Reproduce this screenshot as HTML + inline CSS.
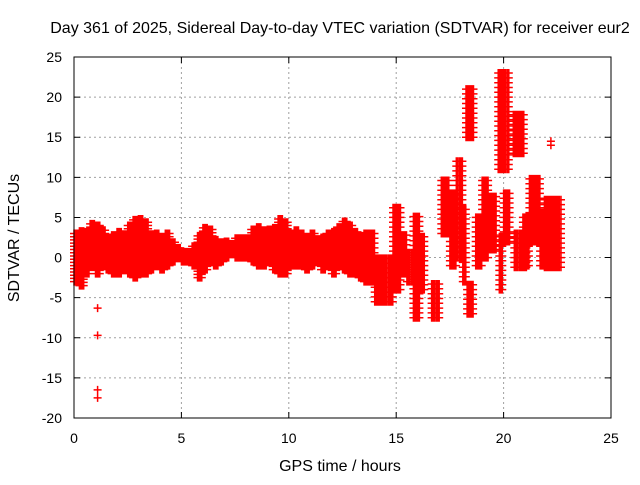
<!DOCTYPE html>
<html><head><meta charset="utf-8"><style>
body{margin:0;background:#fff}
svg{font-family:"Liberation Sans",sans-serif}
</style></head><body>
<svg id="c" width="640" height="480">
<text x="340" y="33" font-size="16" text-anchor="middle">Day 361 of 2025, Sidereal Day-to-day VTEC variation (SDTVAR) for receiver eur2</text>
<text x="340" y="471" font-size="16" text-anchor="middle">GPS time / hours</text>
<text transform="translate(19,238) rotate(-90)" font-size="16" text-anchor="middle">SDTVAR / TECUs</text>
<g id="grid"></g><g id="marks"></g>
<rect x="74" y="57" width="537" height="361" fill="none" stroke="#000"/>
</svg>
<script>
const xTicks=[0,5,10,15,20,25];
const yTicks=[-20,-15,-10,-5,0,5,10,15,20,25];
// main band: 0.25-hour columns, low/high values
const bandT=[0,0.25,0.5,0.75,1.0,1.25,1.5,1.75,2.0,2.25,2.5,2.75,3.0,3.25,3.5,3.75,4.0,4.25,4.5,4.75,5.0,5.25,5.5,5.75,6.0,6.25,6.5,6.75,7.0,7.25,7.5,7.75,8.0,8.25,8.5,8.75,9.0,9.25,9.5,9.75,10.0,10.25,10.5,10.75,11.0,11.25,11.5,11.75,12.0,12.25,12.5,12.75,13.0,13.25];
const bandLo=[-3,-3.5,-2,-1,-2,-1,-1.5,-2,-2,-1.5,-2,-2.5,-2,-2,-1.5,-1,-1.5,-1,-0.5,0,-0.5,-0.5,-1,-2.5,-1.5,-0.5,-1,-0.5,0,0.5,0,0,0,-0.5,-1,-1,-0.5,-1.5,-2,-2,-1,-1,-1,-1.5,-1,-0.5,-1.5,-1,-2,-1,-1.5,-2,-2,-2.5];
const bandHi=[3,3.5,3.5,4.5,4,3.5,2.5,3,3.5,3,4,5,5,4.5,3,3,2.5,3,2,1.5,1,1,1.5,3,4,3.5,2.5,2,2,2,2.5,2.5,2.5,3.5,4,3.5,3.5,4,5,4.5,3,3.5,3,2.5,3,2.5,2.5,3,3.5,4,4.5,4,3.5,3];
// sparse segments later in the day
const segStart=[13.5,14.0,14.85,15.2,15.5,15.8,16.1,16.65,17.1,17.5,17.8,18.1,18.25,18.3,18.7,19.0,19.3,19.75,19.8,20.0,20.45,20.5,20.9,21.2,21.7,21.9];
const segEnd=[14.0,14.85,15.2,15.5,15.8,16.1,16.35,17.05,17.5,17.8,18.1,18.3,18.6,18.6,19.0,19.3,19.7,20.3,20.0,20.3,21.0,21.1,21.2,21.7,21.9,22.7];
const segLo=[-3,-5.5,-4,-2,-3,-7.5,-4,-7.5,3,-1,0,-3,15,-7,-1,0,1,11,-4,2,13,-1.2,-1,2,-1,-1.2];
const segHi=[3,0,6.5,3,1,5.5,3,-3,10,8,12,6,21,-3,5,10,8,23,3,8,18,3,5,10,6,7.5];
const ptT=[1.1,1.1,1.1,1.1,22.2,22.2];
const ptV=[-6.3,-9.7,-16.5,-17.5,14,14.5];
const X=t=>74+t*(537/25), Y=v=>57+(25-v)*(361/45);
const NS="http://www.w3.org/2000/svg";
const g=document.getElementById('grid'), m=document.getElementById('marks'), svg=document.getElementById('c');
xTicks.forEach(t=>{
 if(t>0&&t<25){const l=document.createElementNS(NS,'line');
 
 
 l.setAttribute('x1',X(t));l.setAttribute('x2',X(t));l.setAttribute('y1',57);l.setAttribute('y2',418);
 l.setAttribute('stroke','#a0a0a0');l.setAttribute('stroke-dasharray','2,3');g.appendChild(l);}
 const tk=document.createElementNS(NS,'path');
 
 
 tk.setAttribute('d',`M${X(t)},418v-6M${X(t)},57v6`);tk.setAttribute('stroke','#000');g.appendChild(tk);
 const tx=document.createElementNS(NS,'text');
 
 
 tx.setAttribute('x',X(t));tx.setAttribute('y',443);tx.setAttribute('font-size','14');tx.setAttribute('text-anchor','middle');tx.textContent=t;svg.appendChild(tx);
});
yTicks.forEach(v=>{
 if(v>-20&&v<25){const l=document.createElementNS(NS,'line');
 
 
 l.setAttribute('x1',74);l.setAttribute('x2',611);l.setAttribute('y1',Y(v));l.setAttribute('y2',Y(v));
 l.setAttribute('stroke','#a0a0a0');l.setAttribute('stroke-dasharray','2,3');g.appendChild(l);}
 const tk=document.createElementNS(NS,'path');
 
 
 tk.setAttribute('d',`M74,${Y(v)}h6M611,${Y(v)}h-6`);tk.setAttribute('stroke','#000');g.appendChild(tk);
 const tx=document.createElementNS(NS,'text');
 
 
 tx.setAttribute('x',62);tx.setAttribute('y',Y(v)+5);tx.setAttribute('font-size','14');tx.setAttribute('text-anchor','end');tx.textContent=v;svg.appendChild(tx);
});
let d='';
const plus=(t,v)=>{const x=X(t),y=Y(v);d+=`M${(x-4).toFixed(1)},${y.toFixed(1)}h8M${x.toFixed(1)},${(y-4).toFixed(1)}v8`;};
for(let i=0;i<bandT.length;i++){
 for(let t=bandT[i];t<bandT[i]+0.25-1e-9;t+=0.05){
  for(let v=bandLo[i];v<=bandHi[i]+1e-9;v+=0.4) plus(t,v);
 }
}
for(let i=0;i<segStart.length;i++){
 for(let t=segStart[i];t<=segEnd[i]+1e-9;t+=0.07){
  for(let v=segLo[i];v<=segHi[i]+1e-9;v+=0.6) plus(t,v);
 }
}
for(let i=0;i<ptT.length;i++) plus(ptT[i],ptV[i]);
const p=document.createElementNS(NS,'path');


p.setAttribute('d',d);p.setAttribute('stroke','#f00');p.setAttribute('stroke-width','1.5');p.setAttribute('fill','none');
m.appendChild(p);
</script>
</body></html>
